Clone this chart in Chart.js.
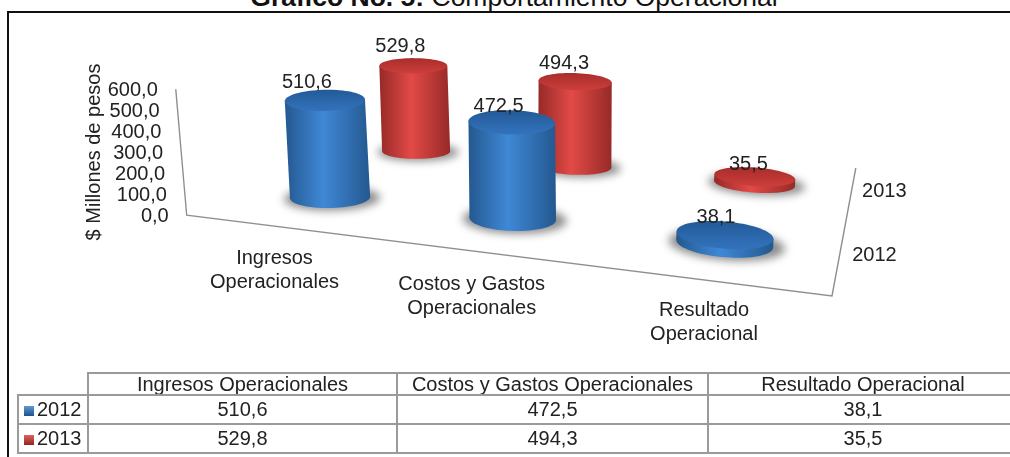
<!DOCTYPE html>
<html>
<head>
<meta charset="utf-8">
<script src="https://cdn.jsdelivr.net/npm/chart.js@4"></script>
<style>
  html, body { margin: 0; padding: 0; width: 1010px; height: 457px; overflow: hidden; background: #fff; }
  body { position: relative; font-family: "Liberation Sans", Arial, sans-serif; color: #222; }
  #chart { position: absolute; left: 0; top: 0; }
  #title { position: absolute; left: 0; width: 1028px; top: -15px; text-align: center; font-size: 26.5px; line-height: 24px; color: #111; white-space: nowrap; }
  #frame { position: absolute; left: 7px; top: 11px; right: -5px; bottom: -5px; border-left: 2px solid #111; border-top: 2px solid #111; }
  #table { position: absolute; left: 17px; top: 372px; width: 1000px; border-collapse: collapse; table-layout: fixed; font-size: 20px; }
  #table td { border: 2px solid #9a9a9a; text-align: center; padding: 0; white-space: nowrap; overflow: hidden; }
  #table tr:first-child td { height: 20px; line-height: 20px; }
  #table tr td { height: 27px; }
  #table td.blank { border-left: none; border-top: none; }
  #table td.series { text-align: left; padding-left: 5px; }
  .key { display: inline-block; width: 10px; height: 10px; margin-right: 3px; }
</style>
</head>
<body>
<div id="title"><b>Gráfico No. 5:</b> Comportamiento Operacional</div>
<div id="frame"></div>
<canvas id="chart" width="1010" height="457"></canvas>
<table id="table"></table>
<script>
// Data
const categories = ['Ingresos Operacionales', 'Costos y Gastos Operacionales', 'Resultado Operacional'];
const categoryLines = [['Ingresos', 'Operacionales'], ['Costos y Gastos', 'Operacionales'], ['Resultado', 'Operacional']];
const seriesNames = ['2012', '2013'];
const values2012 = [510.6, 472.5, 38.1];
const values2013 = [529.8, 494.3, 35.5];
const yTicks = [0, 100, 200, 300, 400, 500, 600];

const FONT = '20px "Liberation Sans", Arial, sans-serif';
const TEXT = '#222';
const fmt = v => v.toFixed(1).replace('.', ',');

const palette = [
  { edge: '#24588f', mid: '#3f88d6', capA: '#235a97', capB: '#3373bd' },
  { edge: '#962a28', mid: '#e24a46', capA: '#a92d2b', capB: '#cc3e3b' }
];

// Perspective of the 3D floor: corners front-left, front-right, back-right, back-left
const floor = [[186.7, 215.2], [836.4, 300.8], [856.8, 168], [381.6, 126.9]];
const axisCorner = { x: 832, y: 296 };

function makeHomography(q) {
  const [[x0, y0], [x1, y1], [x2, y2], [x3, y3]] = q;
  const dx1 = x1 - x2, dy1 = y1 - y2, dx2 = x3 - x2, dy2 = y3 - y2;
  const sx = x0 - x1 + x2 - x3, sy = y0 - y1 + y2 - y3;
  const den = dx1 * dy2 - dx2 * dy1;
  const g = (sx * dy2 - dx2 * sy) / den;
  const h = (dx1 * sy - sx * dy1) / den;
  const a = x1 - x0 + g * x1, b = x3 - x0 + h * x3;
  const d = y1 - y0 + g * y1, e = y3 - y0 + h * y3;
  return (u, v) => {
    const w = g * u + h * v + 1;
    return { x: (a * u + b * v + x0) / w, y: (d * u + e * v + y0) / w, w };
  };
}
const project = makeHomography(floor);

// verticals lean away from the middle of the picture
const lean = x => (x - 556) * 0.000235;
const depthOf = [0.25, 0.75];
const RU = 0.07, RV = 0.09, HEIGHT_K = 0.957;

// nudges for the value labels, per series and category
const labelOffsets = [
  [[-18, -18], [-13, -15], [-8.5, -17]],
  [[-13, -19], [-11, -18], [-6, -12]]
];

function ring(u, v, shiftX, shiftY) {
  const pts = [];
  for (let i = 0; i < 72; i++) {
    const t = i / 72 * Math.PI * 2;
    const p = project(u + RU * Math.cos(t), v + RV * Math.sin(t));
    pts.push([p.x + shiftX, p.y + shiftY]);
  }
  return pts;
}

function tracePoly(ctx, pts) {
  ctx.beginPath();
  pts.forEach((p, i) => i ? ctx.lineTo(p[0], p[1]) : ctx.moveTo(p[0], p[1]));
  ctx.closePath();
}

function drawShadow(ctx, base) {
  const cx = base.reduce((s, p) => s + p[0], 0) / base.length;
  const cy = base.reduce((s, p) => s + p[1], 0) / base.length;
  ctx.save();
  ctx.filter = 'blur(4px)';
  ctx.fillStyle = 'rgba(80,80,80,0.65)';
  tracePoly(ctx, base.map(p => [cx + (p[0] - cx) * 1.2 + 2, cy + (p[1] - cy) * 1.15 + 1]));
  ctx.fill();
  ctx.restore();
}

function drawCylinder(ctx, base, top, col) {
  const extreme = (pts, sign) => pts.reduce((m, p) => (p[0] * sign > m[0] * sign ? p : m));
  const bl = extreme(base, -1), br = extreme(base, 1), tl = extreme(top, -1), tr = extreme(top, 1);
  const left = Math.min(bl[0], tl[0]), right = Math.max(br[0], tr[0]);
  const body = ctx.createLinearGradient(left, 0, right, 0);
  body.addColorStop(0, col.edge);
  body.addColorStop(0.45, col.mid);
  body.addColorStop(1, col.edge);
  ctx.fillStyle = body;
  tracePoly(ctx, base);
  ctx.fill();
  tracePoly(ctx, [bl, tl, tr, br]);
  ctx.fill();
  const ys = top.map(p => p[1]);
  const cap = ctx.createLinearGradient(0, Math.min(...ys), 0, Math.max(...ys));
  cap.addColorStop(0, col.capA);
  cap.addColorStop(1, col.capB);
  ctx.fillStyle = cap;
  tracePoly(ctx, top);
  ctx.fill();
}

// Draws the perspective floor, axis text and cylinders from the bar elements
const cylinderPlugin = {
  id: 'cylinders',
  afterDatasetsDraw(chart) {
    const { ctx, scales: { x: xScale, y: yScale } } = chart;
    const zero = yScale.getPixelForValue(0);
    const marks = [];
    chart.data.datasets.forEach((ds, di) => {
      chart.getDatasetMeta(di).data.forEach((bar, ci) => {
        const u = (xScale.getPixelForTick(ci) - xScale.left) / xScale.width;
        const v = depthOf[di];
        const c = project(u, v);
        const h = (bar.base - bar.y) * HEIGHT_K / c.w;
        const dx = lean(c.x) * h;
        marks.push({ di, ci, value: ds.data[ci], x: c.x + dx, y: c.y - h,
          base: ring(u, v, 0, 0), top: ring(u, v, dx, -h) });
      });
    });

    ctx.save();
    // axis lines
    const fl = project(0, 0), br = project(1, 1);
    const axisTop = zero - yScale.getPixelForValue(yTicks[yTicks.length - 1]);
    ctx.strokeStyle = '#8f8f8f';
    ctx.lineWidth = 1.4;
    ctx.beginPath();
    ctx.moveTo(fl.x + lean(fl.x) * axisTop, fl.y - axisTop);
    ctx.lineTo(fl.x, fl.y);
    ctx.lineTo(axisCorner.x, axisCorner.y);
    ctx.lineTo(br.x - 1, br.y);
    ctx.stroke();

    // back row first so the front row covers it
    marks.forEach(m => drawShadow(ctx, m.base));
    [1, 0].forEach(di => marks.filter(m => m.di === di).forEach(m => {
      drawCylinder(ctx, m.base, m.top, palette[di]);
    }));

    ctx.font = FONT;
    ctx.fillStyle = TEXT;
    ctx.textBaseline = 'middle';

    // value tick labels follow the slanted axis
    ctx.textAlign = 'right';
    yScale.ticks.forEach((t, i) => {
      const h = zero - yScale.getPixelForTick(i);
      ctx.fillText(fmt(t.value), fl.x + lean(fl.x) * h - 18, zero - h + 1);
    });

    // category labels under the front edge
    ctx.textAlign = 'center';
    const drop = [32, 32, 27];
    categoryLines.forEach((lines, ci) => {
      const u = (xScale.getPixelForTick(ci) - xScale.left) / xScale.width;
      const p = project(u, 0);
      lines.forEach((line, li) => ctx.fillText(line, p.x, p.y + drop[ci] + li * 24));
    });

    // series labels along the right edge
    ctx.textAlign = 'left';
    seriesNames.forEach((name, di) => {
      const p = project(1, depthOf[di]);
      ctx.fillText(name, p.x + 9, p.y - 1);
    });

    // value labels
    ctx.textAlign = 'center';
    marks.forEach(m => {
      const [ox, oy] = labelOffsets[m.di][m.ci];
      ctx.fillText(fmt(m.value), m.x + ox, m.y + oy);
    });
    ctx.restore();
  }
};

new Chart(document.getElementById('chart'), {
  type: 'bar',
  data: {
    labels: categories,
    datasets: [
      { label: seriesNames[0], data: values2012, backgroundColor: 'transparent' },
      { label: seriesNames[1], data: values2013, backgroundColor: 'transparent' }
    ]
  },
  options: {
    responsive: false,
    animation: false,
    layout: { padding: { left: 82, right: 173, top: 89, bottom: 242 } },
    plugins: { legend: { display: false }, tooltip: { enabled: false }, title: { display: false } },
    scales: {
      x: { display: false },
      y: {
        min: 0,
        max: 600,
        afterBuildTicks: scale => { scale.ticks = yTicks.map(value => ({ value })); },
        afterFit: scale => { scale.width = 105; },
        grid: { display: false },
        border: { display: false },
        ticks: { display: false },
        title: {
          display: true,
          text: '$ Millones de pesos',
          color: TEXT,
          font: { family: '"Liberation Sans", Arial, sans-serif', size: 20 },
          padding: 0
        }
      }
    }
  },
  plugins: [cylinderPlugin]
});

// Data table under the chart
const table = document.getElementById('table');
const keyColors = ['linear-gradient(#5b9bd5,#1f5187)', 'linear-gradient(#e2615d,#8e2523)'];
const widths = [70, 309, 311, 310];
table.innerHTML =
  '<colgroup>' + widths.map(w => `<col style="width:${w}px">`).join('') + '</colgroup>' +
  '<tr><td class="blank"></td>' + categories.map(c => `<td>${c}</td>`).join('') + '</tr>' +
  [values2012, values2013].map((vals, i) =>
    `<tr><td class="series"><span class="key" style="background:${keyColors[i]}"></span>${seriesNames[i]}</td>` +
    vals.map(v => `<td>${fmt(v)}</td>`).join('') + '</tr>').join('');
</script>
</body>
</html>
